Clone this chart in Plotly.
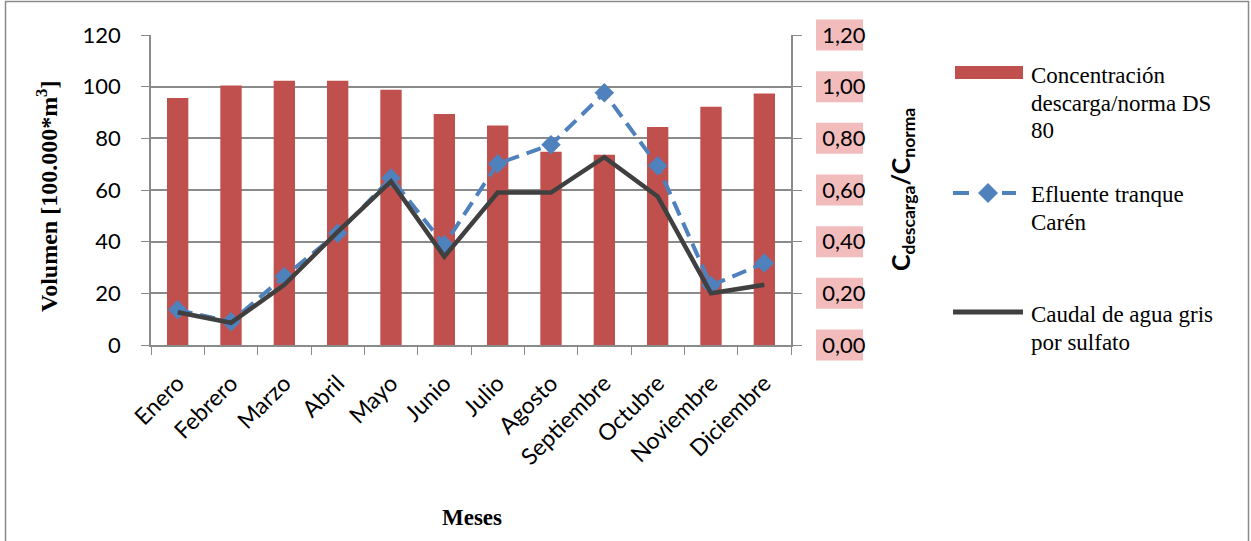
import plotly.graph_objects as go

# Monthly data
meses = ["Enero", "Febrero", "Marzo", "Abril", "Mayo", "Junio", "Julio",
         "Agosto", "Septiembre", "Octubre", "Noviembre", "Diciembre"]
concentracion = [0.956, 1.005, 1.023, 1.023, 0.988, 0.894, 0.850,
                 0.748, 0.736, 0.844, 0.922, 0.974]
efluente = [13.6, 9.0, 26.5, 43.3, 64.6, 38.8, 70.2, 77.5, 97.6, 69.4, 23.0, 31.7]
caudal = [12.7, 8.6, 23.3, 43.8, 63.3, 34.2, 59.0, 59.0, 72.7, 57.5, 20.0, 23.3]

vol_ticks = [0, 20, 40, 60, 80, 100, 120]
ratio_ticks = [0.0, 0.2, 0.4, 0.6, 0.8, 1.0, 1.2]

W, H = 1251, 541
L, R, T, B = 151, 460, 35, 196
PW, PH = W - L - R, H - T - B

RED = "#C0504D"
BLUE = "#4F81BD"
DARK = "#404040"
GRID = "#8a8a8a"
SANS = "Lato, Open Sans, sans-serif"
SERIF = "Liberation Serif, Times New Roman, serif"


def px_x(px):
    return (px - L) / PW


def px_y(py):
    return (T + PH - py) / PH


fig = go.Figure()

fig.add_trace(go.Bar(
    x=meses, y=concentracion, yaxis="y", width=0.4,
    marker=dict(color=RED, line=dict(width=0)),
    name="Concentración descarga/norma DS 80", showlegend=False,
))
fig.add_trace(go.Scatter(
    x=meses, y=efluente, yaxis="y2", mode="lines+markers",
    line=dict(color=BLUE, width=4, dash="15px,8px"),
    marker=dict(symbol="diamond", size=15, color=BLUE),
    name="Efluente tranque Carén", showlegend=False,
))
fig.add_trace(go.Scatter(
    x=meses, y=caudal, yaxis="y2", mode="lines",
    line=dict(color=DARK, width=4.5),
    name="Caudal de agua gris por sulfato", showlegend=False,
))

shapes = []
annotations = []

# outer frame
shapes.append(dict(type="rect", xref="paper", yref="paper",
                   x0=px_x(5.5), x1=px_x(1248.5), y0=px_y(560), y1=px_y(1.5),
                   line=dict(color=GRID, width=1.5), fillcolor="rgba(0,0,0,0)",
                   layer="below"))

# shaded backgrounds behind the right-hand tick labels
for v in ratio_ticks:
    yc = v / 1.2
    shapes.append(dict(type="rect", xref="paper", yref="paper",
                       x0=px_x(816), x1=px_x(863),
                       y0=yc - 15.5 / PH, y1=yc + 15.5 / PH,
                       line=dict(width=0), fillcolor="#f3bcbc", layer="below"))


def label(text, px, py, size, family, angle=0, xanchor="center"):
    annotations.append(dict(text=text, xref="paper", yref="paper",
                            x=px_x(px), y=px_y(py), xanchor=xanchor,
                            yanchor="middle", textangle=angle, showarrow=False,
                            align="left",
                            font=dict(family=family, size=size, color="black")))


# axis titles
label("<b>Volumen [100.000*m<sup>3</sup>]</b>", 47, 196, 24, SERIF, angle=-90)
label("<b>C<sub>descarga</sub>/C<sub>norma</sub></b>", 902, 190, 25, SANS, angle=-90)
label("<b>Meses</b>", 472, 517, 23, SERIF)

# legend
shapes.append(dict(type="rect", xref="paper", yref="paper",
                   x0=px_x(955), x1=px_x(1023), y0=px_y(79), y1=px_y(66),
                   line=dict(width=0), fillcolor=RED))
for a, b in [(953, 969), (1002, 1016)]:
    shapes.append(dict(type="line", xref="paper", yref="paper",
                       x0=px_x(a), x1=px_x(b), y0=px_y(193), y1=px_y(193),
                       line=dict(color=BLUE, width=4)))
cx, cy, d = 988, 193, 10
shapes.append(dict(type="path", xref="paper", yref="paper",
                   path=f"M {px_x(cx - d)} {px_y(cy)} L {px_x(cx)} {px_y(cy - d)} "
                        f"L {px_x(cx + d)} {px_y(cy)} L {px_x(cx)} {px_y(cy + d)} Z",
                   line=dict(width=0), fillcolor=BLUE))
shapes.append(dict(type="line", xref="paper", yref="paper",
                   x0=px_x(953), x1=px_x(1023), y0=px_y(312), y1=px_y(312),
                   line=dict(color=DARK, width=5)))

legend_lines = [
    ("Concentración", 75), ("descarga/norma DS", 103), ("80", 130),
    ("Efluente tranque", 194), ("Carén", 222),
    ("Caudal de agua gris", 314), ("por sulfato", 342),
]
for txt, py in legend_lines:
    label(txt, 1029, py, 23, SERIF, xanchor="left")

fig.update_layout(
    width=W, height=H,
    margin=dict(l=L, r=R, t=T, b=B),
    paper_bgcolor="white", plot_bgcolor="white",
    separators=",.",
    showlegend=False,
    xaxis=dict(
        type="category", range=[-0.5, 11.5], tickangle=-45,
        tickson="boundaries", ticks="outside", ticklen=8, tickcolor=GRID,
        ticklabelstandoff=14,
        showline=True, linecolor=GRID, linewidth=1.5, showgrid=False,
        tickfont=dict(family=SANS, size=23, color="black"),
    ),
    yaxis=dict(
        side="right", range=[0, 1.2], tickvals=ratio_ticks, tickformat=".2f",
        ticks="outside", ticklen=9, tickcolor=GRID, ticklabelstandoff=16,
        showline=True, linecolor=GRID, linewidth=1.5,
        showgrid=True, gridcolor=GRID, gridwidth=1.5, zeroline=False,
        tickfont=dict(family=SANS, size=22, color="black"),
    ),
    yaxis2=dict(
        side="left", overlaying="y", range=[0, 120], tickvals=vol_ticks,
        ticks="outside", ticklen=8, tickcolor=GRID, ticklabelstandoff=16,
        showline=True, linecolor=GRID, linewidth=1.5,
        showgrid=False, zeroline=False,
        tickfont=dict(family=SANS, size=22, color="black"),
    ),
    shapes=shapes,
    annotations=annotations,
)

fig.write_html("out.html")
